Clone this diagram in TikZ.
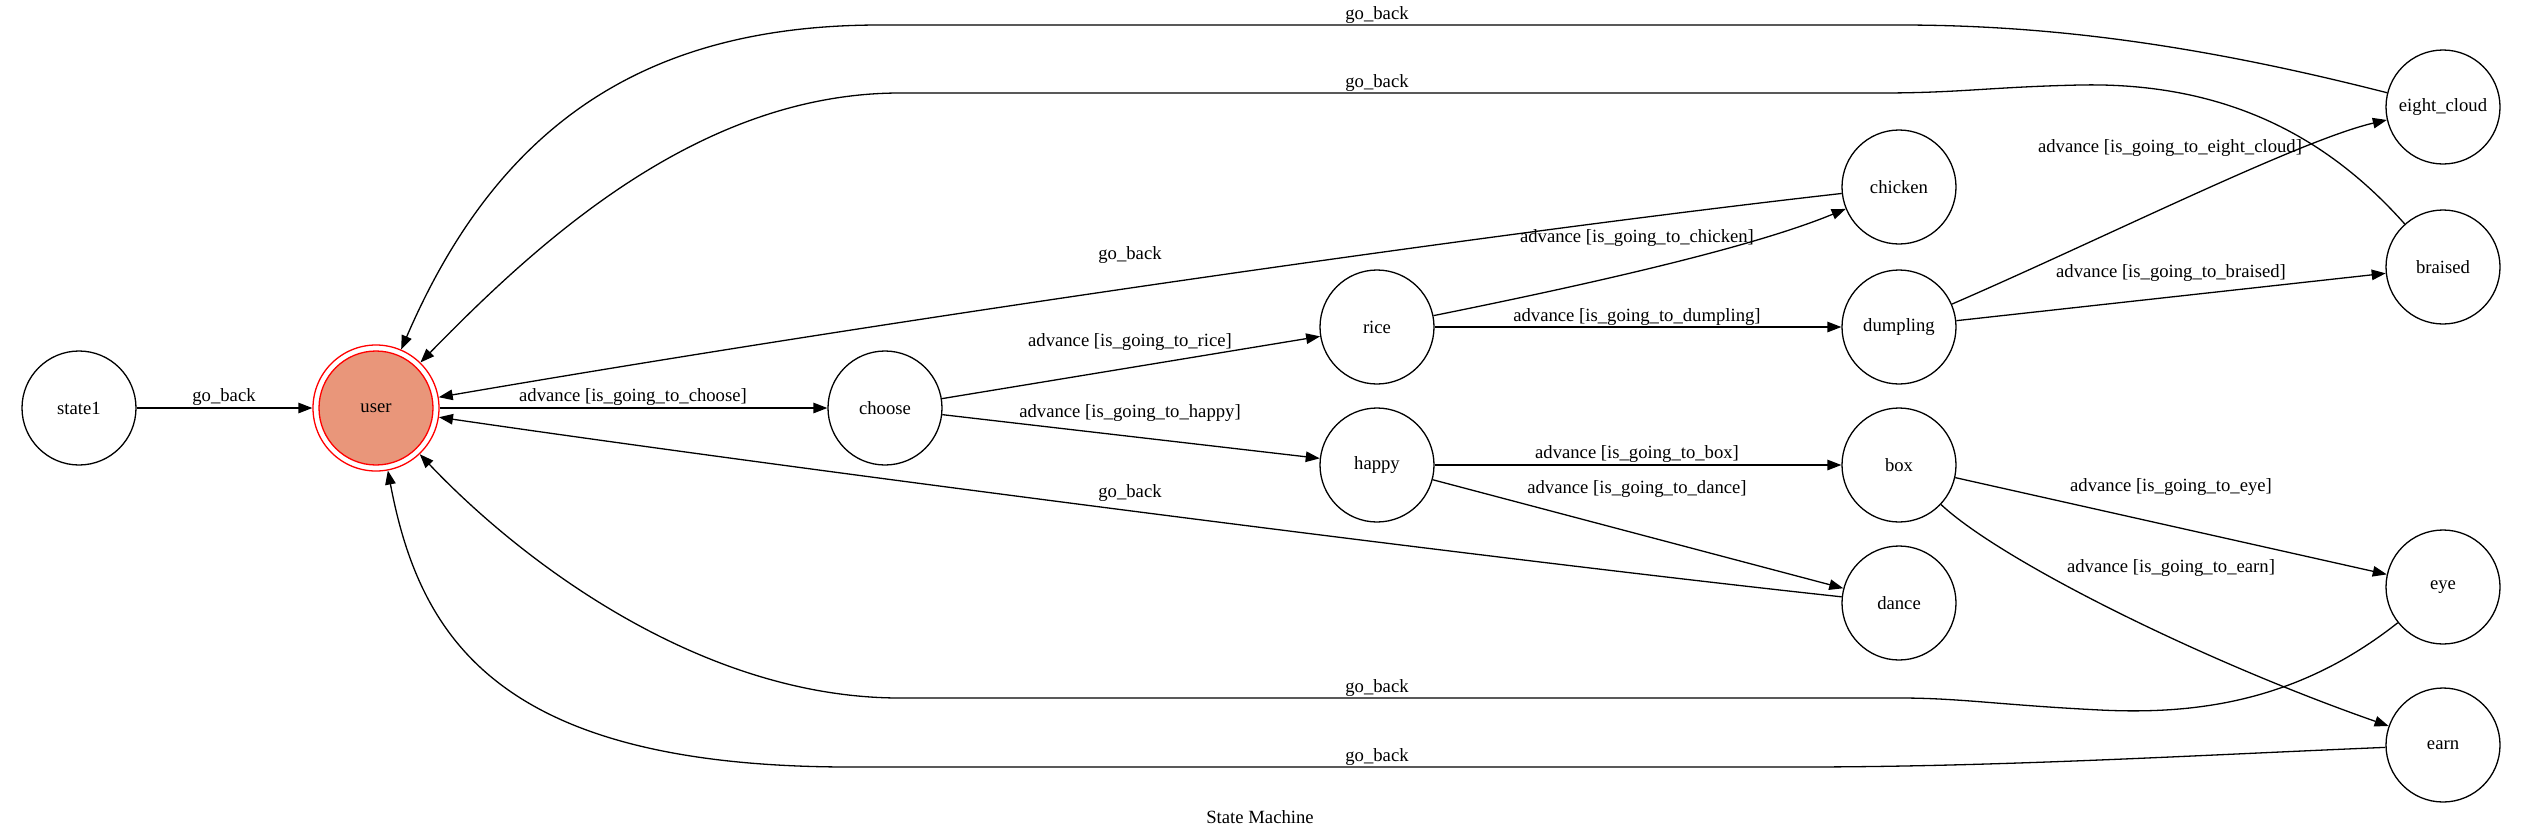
\documentclass[tikz,border=0pt]{standalone}
\usepackage{fontspec}
\setmainfont{Liberation Serif}
\usetikzlibrary{arrows.meta}
\definecolor{usrfill}{HTML}{E9967A}
\newcommand\gvfont{\fontsize{18.67}{22}\selectfont}
\begin{document}
\begin{tikzpicture}[x=1pt,y=-1pt,
  state/.style={circle, draw, line width=1.3pt, minimum size=114pt, inner sep=0pt, font=\gvfont},
  userouter/.style={circle, draw=red, line width=1.3pt, minimum size=126pt, inner sep=0pt, font=\gvfont},
  edge/.style={line width=1.3pt, -{Triangle[length=14pt,width=10.5pt]}},
  lbl/.style={font=\gvfont, inner sep=0pt}]
\useasboundingbox (0,0) rectangle (2522,839);
% nodes
\node[state] (state1) at (79,408) {state1};
\fill[usrfill, draw=red, line width=1.3pt] (376,408) circle (57);
\node[userouter] (user) at (376,408) {user};
\node[state] (choose) at (885,408) {choose};
\node[state] (rice) at (1377,327) {rice};
\node[state] (happy) at (1377,465) {happy};
\node[state] (chicken) at (1899,187) {chicken};
\node[state] (dumpling) at (1899,327) {dumpling};
\node[state] (box) at (1899,465) {box};
\node[state] (dance) at (1899,603) {dance};
\node[state] (eight_cloud) at (2443,107) {eight\_cloud};
\node[state] (braised) at (2443,267) {braised};
\node[state] (eye) at (2443,587) {eye};
\node[state] (earn) at (2443,745) {earn};
% straight advance edges
\draw[edge] (state1) -- (user);
\draw[edge] (user) -- (choose);
\draw[edge] (choose) -- (rice);
\draw[edge] (choose) -- (happy);
\draw[edge] (rice) -- (dumpling);
\draw[edge] (happy) -- (box);
\draw[edge] (happy) -- (dance);
\draw[edge] (dumpling) -- (braised);
\draw[edge] (box) -- (eye);
% curved advance edges
\draw[edge] (rice) .. controls (1650,272) and (1770,240) .. (chicken);
\draw[edge] (dumpling) .. controls (2100,240) and (2300,140) .. (eight_cloud);
\draw[edge] (box) .. controls (2000,560) and (2200,660) .. (earn);
% go_back edges
\draw[edge] (chicken) .. controls (1500,232) and (900,318) .. (user);
\draw[edge] (dance) .. controls (1500,560) and (800,470) .. (user);
\draw[edge] (eight_cloud) .. controls (2200,45) and (2050,25) .. (1900,25) -- (880,25) .. controls (650,25) and (500,120) .. (user);
\draw[edge] (braised) .. controls (2330,140) and (2230,82) .. (2080,85) .. controls (1990,87) and (1960,93) .. (1880,93) -- (900,93) .. controls (700,93) and (540,240) .. (user);
\draw[edge] (eye) .. controls (2300,700) and (2200,715) .. (2100,710) .. controls (2000,705) and (1960,698) .. (1900,698) -- (900,698) .. controls (700,698) and (520,560) .. (user);
\draw[edge] (earn) .. controls (2200,755) and (2000,767) .. (1800,767) -- (850,767) .. controls (500,767) and (420,640) .. (user);
% labels
\node[lbl] (l1) at (224,397) {go\_back};
\node[lbl] (l2) at (633,397) {advance [is\_going\_to\_choose]};
\node[lbl] (l3) at (1130,342) {advance [is\_going\_to\_rice]};
\node[lbl] (l4) at (1130,413) {advance [is\_going\_to\_happy]};
\node[lbl] (l5) at (1130,255) {go\_back};
\node[lbl] (l6) at (1130,493) {go\_back};
\node[lbl] (l7) at (1637,238) {advance [is\_going\_to\_chicken]};
\node[lbl] (l8) at (1637,317) {advance [is\_going\_to\_dumpling]};
\node[lbl] (l9) at (1637,454) {advance [is\_going\_to\_box]};
\node[lbl] (l10) at (1637,489) {advance [is\_going\_to\_dance]};
\node[lbl] (l11) at (2170,148) {advance [is\_going\_to\_eight\_cloud]};
\node[lbl] (l12) at (2171,273) {advance [is\_going\_to\_braised]};
\node[lbl] (l13) at (2171,487) {advance [is\_going\_to\_eye]};
\node[lbl] (l14) at (2171,568) {advance [is\_going\_to\_earn]};
\node[lbl] (l15) at (1377,15) {go\_back};
\node[lbl] (l16) at (1377,83) {go\_back};
\node[lbl] (l17) at (1377,688) {go\_back};
\node[lbl] (l18) at (1377,757) {go\_back};
\node[lbl] (title) at (1260,817) {State Machine};
\end{tikzpicture}
\end{document}
